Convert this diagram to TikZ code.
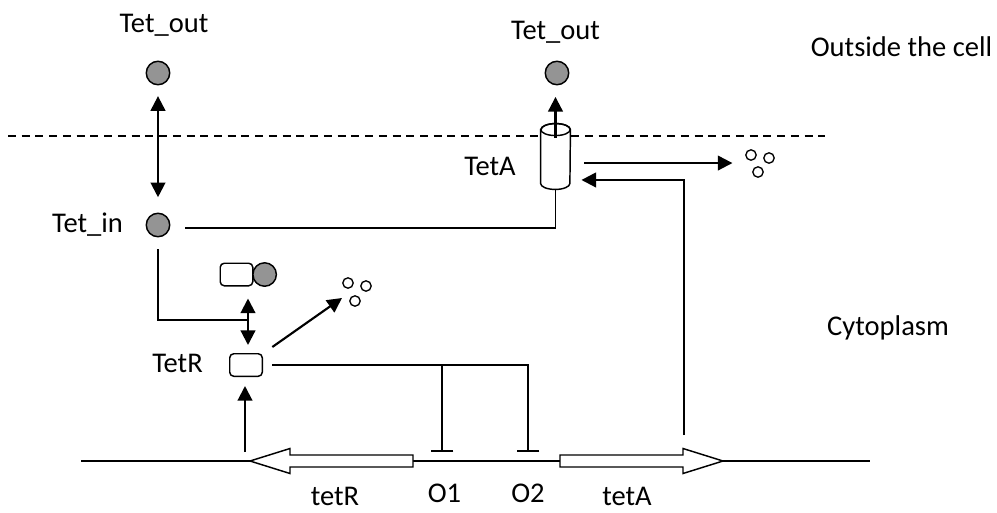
\documentclass[tikz,border=0pt]{standalone}
\usepackage{fontspec}
\setmainfont{Carlito}
\usepackage{tikz}
\usetikzlibrary{arrows.meta,positioning,calc}

\begin{document}
\begin{tikzpicture}[
x=0.75pt, y=-0.75pt,
lbl/.style={font=\fontsize{21.4}{25}\selectfont, inner sep=0pt, anchor=base},
mol/.style={circle, draw, line width=1.1pt, fill=black!42, minimum size=17.6pt, inner sep=0pt},
deg/.style={circle, draw, line width=1pt, fill=white, minimum size=7.8pt, inner sep=0pt},
prot/.style={rectangle, draw, line width=1.1pt, rounded corners=3pt, fill=white, minimum width=24.4pt, minimum height=16.9pt, inner sep=0pt},
link/.style={line width=1pt},
arrow/.style={-{Triangle[length=11pt,width=11pt]}, line width=1.6pt},
dblarrow/.style={{Triangle[length=11pt,width=11pt]}-{Triangle[length=11pt,width=11pt]}, line width=1.6pt},
repress/.style={-{Bar[width=17pt,line width=1.5pt]}, line width=1pt},
gene/.style={draw, line width=1.1pt, fill=white, line join=miter}
]
\useasboundingbox (0,0) rectangle (997,512);

% membrane
\draw[dashed, dash pattern=on 6pt off 4.3pt, line width=0.8pt] (8,136) -- (825,136);

% molecules
\node[mol] (tetout1) at (158,73) {};
\node[mol] (tetout2) at (557,73) {};
\node[mol] (tetin) at (158,225) {};
\node[prot] (cplxR) at (236.5,274.5) {};
\node[mol, right=-1pt of cplxR] (cplxT) {};
\node[prot] (tetrbox) at (246,365) {};

% TetA pump
\node[minimum width=22pt, minimum height=49pt, inner sep=0pt] (tetApump) at (555.5,156.5) {};
\draw[gene] ([yshift=-4.5pt]tetApump.north west) -- ([yshift=4.5pt]tetApump.south west)
  arc[start angle=180, end angle=360, x radius=11pt, y radius=4.5pt]
  -- ([yshift=-4.5pt]tetApump.north east)
  arc[start angle=0, end angle=180, x radius=11pt, y radius=4.5pt] -- cycle;
\draw[line width=1.1pt] ([yshift=-4.5pt]tetApump.north) ellipse[x radius=11pt, y radius=4.5pt];

% degradation products
\node[deg] (degR1) at (348,283) {};
\node[deg] (degR2) at (366,286) {};
\node[deg] (degR3) at (355,301) {};
\node[deg] (degA1) at (751,155) {};
\node[deg] (degA2) at (769,158) {};
\node[deg] (degA3) at (758,172) {};

% DNA
\coordinate (dnaL) at (81,461);
\coordinate (dnaR) at (870,461);
\draw[link] (dnaL) -- (dnaR);
\draw[gene] (413,455) -- (290,455) -- (290,448.5) -- (250,461) -- (290,473.5) -- (290,467) -- (413,467) -- cycle;
\draw[gene] (560,455) -- (683,455) -- (683,448.5) -- (723,461) -- (683,473.5) -- (683,467) -- (560,467) -- cycle;

\coordinate (jct) at (248,320);
\coordinate (degRtip) at (342,298);
\coordinate (o1site) at (442,452);
\coordinate (o2site) at (528,452);
\coordinate (tetRstart) at (245,452);
\coordinate (tetAstart) at (684,435);

% connectors
\draw[dblarrow, shorten <=8pt, shorten >=11.5pt] (tetout1.south) -- (tetin.north);
\draw[arrow, shorten >=8.6pt] ([yshift=-10.5pt]tetApump.north) -- (tetApump.north |- tetout2.south);
\draw[link] ([xshift=11pt,yshift=-2.2pt]tetin.east) -| (tetApump.south);
\draw[link, shorten <=9pt] (tetin.south) |- (jct);
\draw[dblarrow, shorten <=9pt, shorten >=6pt] (jct |- cplxR.south) -- (jct |- tetrbox.north);
\draw[arrow] ([xshift=7pt,yshift=4.5pt]tetrbox.north east) -- (degRtip);
\draw[repress] ([xshift=6.75pt]tetrbox.east) -| (o2site);
\draw[repress] (o1site |- tetrbox.east) -- (o1site);
\draw[arrow, shorten >=6.75pt] (tetRstart) -- (tetRstart |- tetrbox.south);
\draw[arrow] (tetAstart) |- ([xshift=8.25pt,yshift=-17.6pt]tetApump.east);
\draw[arrow] ([xshift=10.5pt,yshift=-4.9pt]tetApump.east) -- ++(148,0);

% labels
\node[lbl] (lTetout1) at (164,32) {Tet\_out};
\node[lbl] (lTetout2) at (555.5,39) {Tet\_out};
\node[lbl] (lOutside) at (901.5,56) {Outside the cell};
\node[lbl] (lTetin) at (87.5,232.5) {Tet\_in};
\node[lbl] (lTetA) at (490,175) {TetA};
\node[lbl] (lTetR) at (177.5,372) {TetR};
\node[lbl] (lCyto) at (888,335) {Cytoplasm};
\node[lbl] (ltetR) at (335,505) {tetR};
\node[lbl] (lO1) at (444.5,502) {O1};
\node[lbl] (lO2) at (528,502) {O2};
\node[lbl] (ltetA) at (627,505) {tetA};
\end{tikzpicture}
\end{document}
